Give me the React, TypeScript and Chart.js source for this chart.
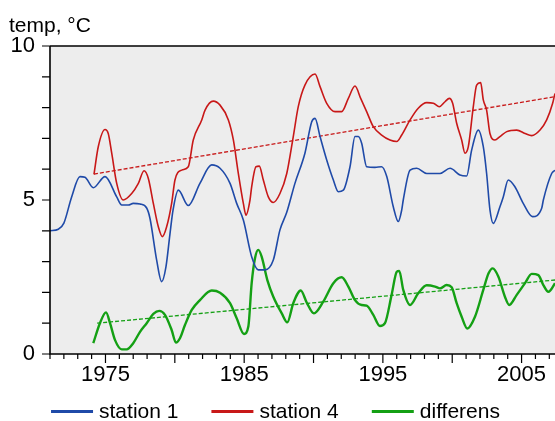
import React, { useEffect, useRef } from "react";
import { Chart, registerables } from "chart.js";

Chart.register(...registerables);

const FONT = '"Liberation Sans", Arial, Helvetica, sans-serif';

const yAxisTitle = "temp, °C";
const xTickYears = [1975, 1985, 1995, 2005];
const yTickValues = [0, 5, 10];
const xRange = [1971, 2007.41];
const yRange = [0, 10];

const station1Label = "station 1";
const station1Years = [
  1971.0, 1971.6, 1972.0, 1972.56, 1973.16, 1973.52, 1974.12, 1974.97, 1975.81, 1976.17,
  1976.65, 1977.0, 1977.49, 1977.97, 1978.21, 1978.69, 1979.05, 1979.36, 1979.65, 1979.87,
  1980.25, 1980.97, 1981.81, 1982.66, 1983.26, 1983.98, 1984.46, 1984.94, 1985.54, 1986.02,
  1986.5, 1987.1, 1987.58, 1988.07, 1988.66, 1989.38, 1989.87, 1990.11, 1990.47, 1990.95,
  1991.43, 1991.79, 1992.15, 1992.63, 1992.99, 1993.23, 1993.47, 1993.83, 1994.43, 1994.91,
  1995.28, 1995.75, 1996.11, 1996.36, 1996.47, 1996.96, 1997.44, 1998.16, 1999.12, 1999.84,
  2000.56, 2001.04, 2001.4, 2001.88, 2002.24, 2002.48, 2002.72, 2002.96, 2003.44, 2003.68,
  2004.04, 2004.52, 2005.12, 2005.79, 2006.45, 2006.57, 2007.17, 2007.41, 2007.6,
];
const station1Values = [
  4.0, 4.05, 4.25, 5.1, 5.76, 5.74, 5.4, 5.76, 5.1, 4.84,
  4.84, 4.89, 4.87, 4.74, 4.4, 3.05, 2.35, 2.83, 3.9, 4.67,
  5.32, 4.82, 5.54, 6.14, 6.03, 5.54, 4.89, 4.35, 3.16, 2.73,
  2.73, 3.05, 4.03, 4.6, 5.54, 6.52, 7.54, 7.65, 7.06, 6.3,
  5.65, 5.27, 5.32, 6.08, 7.06, 7.06, 6.84, 6.08, 6.06, 6.08,
  5.76, 4.78, 4.3, 4.68, 5.0, 5.97, 6.03, 5.86, 5.86, 6.03,
  5.81, 5.78, 6.62, 7.27, 6.73, 5.86, 4.68, 4.24, 4.78, 5.1,
  5.65, 5.43, 4.89, 4.46, 4.73, 5.0, 5.86, 5.97, 6.1,
];

const station4Label = "station 4";
const station4Years = [
  1974.17, 1974.48, 1974.97, 1975.2, 1975.45, 1975.81, 1976.28, 1976.89, 1977.37, 1977.78,
  1978.09, 1978.45, 1978.81, 1979.1, 1979.41, 1979.77, 1980.01, 1980.5, 1980.97, 1981.33,
  1981.94, 1982.18, 1982.77, 1983.26, 1983.86, 1984.22, 1984.58, 1984.94, 1985.13, 1985.42,
  1985.54, 1985.85, 1986.09, 1986.38, 1986.74, 1987.1, 1987.58, 1988.07, 1988.54, 1988.9,
  1989.38, 1990.11, 1990.47, 1990.95, 1991.55, 1992.03, 1992.51, 1992.99, 1993.4, 1993.83,
  1994.31, 1994.91, 1995.51, 1996.0, 1996.36, 1996.96, 1997.55, 1998.16, 1998.64, 1999.07,
  1999.48, 1999.79, 2000.03, 2000.32, 2000.68, 2000.92, 2001.16, 2001.52, 2001.76, 2002.05,
  2002.24, 2002.48, 2002.72, 2003.08, 2003.44, 2003.93, 2004.65, 2005.25, 2005.73, 2006.33,
  2006.81, 2007.24, 2007.41, 2007.6,
];
const station4Values = [
  5.83, 6.73, 7.29, 7.16, 6.52, 5.54, 5.0, 5.21, 5.54, 5.95,
  5.7, 4.89, 4.13, 3.81, 4.13, 4.89, 5.65, 5.97, 6.08, 6.95,
  7.6, 7.92, 8.21, 8.08, 7.6, 6.95, 5.86, 4.89, 4.51, 5.0,
  5.43, 6.08, 6.1, 5.65, 5.1, 4.92, 5.21, 5.86, 7.06, 8.03,
  8.73, 9.09, 8.68, 8.14, 7.87, 7.87, 8.3, 8.7, 8.3, 7.87,
  7.38, 7.11, 6.95, 6.9, 7.11, 7.6, 7.98, 8.16, 8.14, 8.03,
  8.19, 8.3, 8.14, 7.49, 6.95, 6.52, 6.73, 8.03, 8.73, 8.81,
  8.25, 7.92, 7.16, 6.95, 7.06, 7.22, 7.27, 7.16, 7.09, 7.27,
  7.6, 8.14, 8.46, 8.7,
];

const diffLabel = "differens";
const diffYears = [
  1974.12, 1974.6, 1975.04, 1975.33, 1975.69, 1976.17, 1976.53, 1977.0, 1977.49, 1977.97,
  1978.45, 1978.88, 1979.29, 1979.77, 1980.08, 1980.37, 1980.73, 1981.22, 1981.81, 1982.66,
  1983.26, 1983.98, 1984.46, 1984.99, 1985.3, 1985.54, 1985.78, 1986.02, 1986.26, 1986.67,
  1987.1, 1987.71, 1988.11, 1988.54, 1989.08, 1989.51, 1990.03, 1990.7, 1991.43, 1992.03,
  1992.51, 1992.99, 1993.47, 1993.83, 1994.31, 1994.79, 1995.15, 1995.63, 1996.0, 1996.18,
  1996.47, 1996.96, 1997.55, 1998.16, 1998.76, 1999.12, 1999.6, 1999.96, 2000.32, 2000.68,
  2001.09, 2001.64, 2002.24, 2002.62, 2002.92, 2003.33, 2003.8, 2004.11, 2004.65, 2005.25,
  2005.73, 2006.21, 2006.57, 2006.93, 2007.41, 2007.6,
];
const diffValues = [
  0.35, 1.0, 1.35, 1.0, 0.45, 0.15, 0.15, 0.35, 0.72, 1.0,
  1.3, 1.4, 1.27, 0.78, 0.37, 0.51, 0.94, 1.43, 1.75, 2.06,
  1.99, 1.65, 1.16, 0.65, 0.89, 2.3, 3.11, 3.38, 3.16, 2.4,
  1.86, 1.32, 1.03, 1.65, 2.06, 1.67, 1.32, 1.7, 2.3, 2.49,
  2.19, 1.75, 1.59, 1.57, 1.27, 0.91, 1.0, 1.92, 2.67, 2.7,
  2.08, 1.59, 1.97, 2.23, 2.19, 2.13, 2.24, 2.17, 1.65, 1.21,
  0.83, 1.21, 2.08, 2.62, 2.78, 2.51, 1.86, 1.59, 1.92, 2.3,
  2.6, 2.56, 2.24, 2.02, 2.3, 2.45,
];

const station4TrendYears = [1974.17, 2007.6];
const station4TrendValues = [5.84, 8.37];
const diffTrendYears = [1974.4, 2007.6];
const diffTrendValues = [1.0, 2.41];

const BLUE = "#1f4aa8";
const RED = "#c81818";
const GREEN = "#14a014";

const zip = (xs: number[], ys: number[]) => xs.map((x, i) => ({ x, y: ys[i] }));

const decorPlugin = {
  id: "decor",
  beforeDraw(chart: any) {
    const { ctx, chartArea: a } = chart;
    ctx.save();
    ctx.fillStyle = "#ededed";
    ctx.fillRect(a.left, a.top, a.right - a.left, a.bottom - a.top);
    ctx.restore();
  },
  afterDraw(chart: any) {
    const { ctx, chartArea: a, scales } = chart;
    const xs = scales.x;
    const ys = scales.y;
    ctx.save();
    ctx.strokeStyle = "#000";
    ctx.lineWidth = 1.6;
    ctx.beginPath();
    ctx.moveTo(a.left, a.top);
    ctx.lineTo(a.right + 2, a.top);
    ctx.moveTo(a.left, a.top);
    ctx.lineTo(a.left, a.bottom);
    ctx.lineTo(a.right + 2, a.bottom);
    ctx.stroke();

    ctx.lineWidth = 1.2;
    ctx.beginPath();
    for (let v = ys.min; v <= ys.max; v++) {
      const py = ys.getPixelForValue(v);
      ctx.moveTo(a.left - 8, py);
      ctx.lineTo(a.left, py);
    }
    for (let yr = Math.ceil(xs.min); yr <= xs.max; yr++) {
      const px = xs.getPixelForValue(yr);
      const len = yr % 5 === 0 ? 9 : 5;
      ctx.moveTo(px, a.bottom);
      ctx.lineTo(px, a.bottom + len);
    }
    ctx.stroke();

    ctx.fillStyle = "#000";
    ctx.font = `21px ${FONT}`;
    ctx.textBaseline = "alphabetic";
    ctx.textAlign = "left";
    ctx.fillText(yAxisTitle, 9, 32);

    // legend
    const items = chart.data.datasets.filter((d: any) => d.label);
    const lineLen = 42;
    const gapText = 6;
    const gapItem = 33;
    const widths = items.map((d: any) => ctx.measureText(d.label).width);
    const total =
      widths.reduce((s: number, w: number) => s + lineLen + gapText + w, 0) +
      gapItem * (items.length - 1);
    let x = (chart.width - total) / 2 - 2;
    const lineY = 411.5;
    const textY = 418;
    items.forEach((d: any, i: number) => {
      ctx.strokeStyle = d.borderColor;
      ctx.lineWidth = 3;
      ctx.beginPath();
      ctx.moveTo(x, lineY);
      ctx.lineTo(x + lineLen, lineY);
      ctx.stroke();
      ctx.fillStyle = "#000";
      ctx.fillText(d.label, x + lineLen + gapText, textY);
      x += lineLen + gapText + widths[i] + gapItem;
    });
    ctx.restore();
  },
};

export default function App() {
  const ref = useRef<HTMLCanvasElement | null>(null);
  useEffect(() => {
    if (!ref.current) return;
    const chart = new Chart(ref.current, {
      type: "line",
      data: {
        datasets: [
          {
            label: station1Label,
            data: zip(station1Years, station1Values),
            borderColor: BLUE,
            borderWidth: 1.6,
            pointRadius: 0,
            cubicInterpolationMode: "monotone",
          },
          {
            label: station4Label,
            data: zip(station4Years, station4Values),
            borderColor: RED,
            borderWidth: 1.6,
            pointRadius: 0,
            cubicInterpolationMode: "monotone",
          },
          {
            label: diffLabel,
            data: zip(diffYears, diffValues),
            borderColor: GREEN,
            borderWidth: 2.4,
            pointRadius: 0,
            cubicInterpolationMode: "monotone",
          },
          {
            label: "",
            data: zip(station4TrendYears, station4TrendValues),
            borderColor: RED,
            borderWidth: 1.3,
            borderDash: [4, 2],
            pointRadius: 0,
          },
          {
            label: "",
            data: zip(diffTrendYears, diffTrendValues),
            borderColor: GREEN,
            borderWidth: 1.3,
            borderDash: [4, 2],
            pointRadius: 0,
          },
        ],
      },
      options: {
        animation: false,
        responsive: false,
        devicePixelRatio: 1,
        layout: { padding: { top: 46, left: 0, right: 0, bottom: 0 } },
        plugins: {
          legend: { display: false },
          tooltip: { enabled: false },
          title: { display: false },
        },
        scales: {
          x: {
            type: "linear",
            min: xRange[0],
            max: xRange[1],
            grid: { display: false, drawTicks: false },
            border: { display: false },
            afterBuildTicks: (s: any) => {
              s.ticks = xTickYears.map((v) => ({ value: v }));
            },
            afterFit: (s: any) => {
              s.height = 67;
            },
            ticks: {
              autoSkip: false,
              maxRotation: 0,
              padding: 8,
              color: "#000",
              font: { family: FONT, size: 22 },
              callback: (v: any) => String(v),
            },
          },
          y: {
            type: "linear",
            min: yRange[0],
            max: yRange[1],
            grid: { display: false, drawTicks: false },
            border: { display: false },
            afterBuildTicks: (s: any) => {
              s.ticks = yTickValues.map((v) => ({ value: v }));
            },
            afterFit: (s: any) => {
              s.width = 50;
            },
            ticks: {
              padding: 15,
              color: "#000",
              font: { family: FONT, size: 22 },
              callback: (v: any) => String(v),
            },
          },
        },
      },
      plugins: [decorPlugin],
    });
    return () => chart.destroy();
  }, []);
  return (
    <div style={{ position: "fixed", left: 0, top: 0, width: 555, height: 421, background: "#fff" }}>
      <canvas ref={ref} width={555} height={421} style={{ width: 555, height: 421, display: "block" }} />
    </div>
  );
}
